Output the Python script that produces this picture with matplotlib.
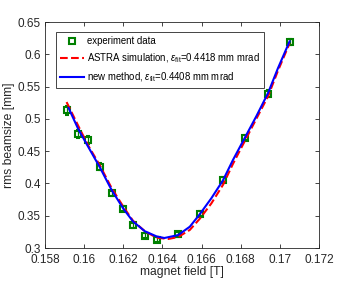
import matplotlib.pyplot as plt
from matplotlib.lines import Line2D

plt.rcParams['font.family'] = ['Liberation Sans', 'DejaVu Sans']
plt.rcParams['mathtext.fontset'] = 'custom'
plt.rcParams['mathtext.rm'] = 'Liberation Sans'
plt.rcParams['mathtext.it'] = 'Liberation Sans:italic'

# measured points
field = [0.1591, 0.1597, 0.1602, 0.1608, 0.1614, 0.1620, 0.1625, 0.1631,
         0.1637, 0.1648, 0.1659, 0.1671, 0.1682, 0.1694, 0.1705]
size = [0.513, 0.477, 0.467, 0.426, 0.385, 0.361, 0.335, 0.319,
        0.313, 0.321, 0.353, 0.406, 0.471, 0.539, 0.619]
err = [0.007, 0.006, 0.006, 0.005, 0.004, 0.004, 0.004, 0.004,
       0.004, 0.004, 0.004, 0.004, 0.004, 0.005, 0.005]

# ASTRA simulation curve
astra_x = [0.1591, 0.1597, 0.1602, 0.1608, 0.1614, 0.1620, 0.1625, 0.1631,
           0.1637, 0.1643, 0.1648, 0.1654, 0.1659, 0.1665, 0.1671, 0.1676,
           0.1682, 0.1688, 0.1694, 0.1699, 0.1705]
astra_y = [0.526, 0.489, 0.459, 0.428, 0.393, 0.364, 0.342, 0.326,
           0.316, 0.314, 0.317, 0.328, 0.345, 0.369, 0.398, 0.430,
           0.465, 0.500, 0.535, 0.574, 0.617]

# new method fit curve
new_x = [0.1592, 0.1597, 0.1602, 0.1608, 0.1614, 0.1620, 0.1625, 0.1631,
         0.1637, 0.1641, 0.1648, 0.1654, 0.1659, 0.1665, 0.1671, 0.1676,
         0.1682, 0.1688, 0.1694, 0.1699, 0.1705]
new_y = [0.517, 0.484, 0.457, 0.425, 0.390, 0.361, 0.341, 0.326,
         0.318, 0.3155, 0.320, 0.333, 0.352, 0.377, 0.405, 0.436,
         0.470, 0.504, 0.540, 0.578, 0.620]

fig = plt.figure(figsize=(3.52, 2.81), dpi=100)
ax = fig.add_axes([0.128, 0.1174, 0.778, 0.8043])

green = (0, 0.5, 0)
ax.errorbar(field, size, yerr=err, fmt='s', color=green, mfc='none', mec=green,
            ms=5, mew=1.5, elinewidth=0.9, capsize=1.5, zorder=3)
l1, = ax.plot(astra_x, astra_y, '--', color='red', lw=1.5, zorder=4)
l2, = ax.plot(new_x, new_y, '-', color='blue', lw=1.5, zorder=5)
l0 = Line2D([], [], ls='none', marker='s', ms=5, mew=1.5, mfc='none', mec=green)

ax.set_xlim(0.158, 0.172)
ax.set_ylim(0.3, 0.65)
ax.set_xticks([0.158, 0.16, 0.162, 0.164, 0.166, 0.168, 0.17, 0.172])
ax.set_xticklabels(['0.158', '0.16', '0.162', '0.164', '0.166', '0.168', '0.17', '0.172'])
ax.set_yticks([0.3, 0.35, 0.4, 0.45, 0.5, 0.55, 0.6, 0.65])
ax.set_yticklabels(['0.3', '0.35', '0.4', '0.45', '0.5', '0.55', '0.6', '0.65'])
ax.tick_params(direction='in', top=True, right=True, labelsize=8.5, colors='#262626',
               length=3, width=0.6)
ax.tick_params(axis='x', pad=4.5)
ax.tick_params(axis='y', pad=3)
for s in ax.spines.values():
    s.set_color('#262626')
    s.set_linewidth(0.6)

ax.set_xlabel('magnet field [T]', fontsize=8.7, color='#262626', labelpad=-0.5)
ax.set_ylabel('rms beamsize [mm]', fontsize=8.7, color='#262626', labelpad=2)

leg = ax.legend([l0, l1, l2],
                ['experiment data',
                 r'ASTRA simulation, $\epsilon_{\rm fit}$=0.4418 mm mrad',
                 r'new method, $\epsilon_{\rm fit}$=0.4408 mm mrad'],
                loc='upper left', bbox_to_anchor=(0.04, 0.955), borderaxespad=0,
                fontsize=6.9, fancybox=False, framealpha=1,
                edgecolor='#262626', handlelength=2.5, handletextpad=0.35,
                labelspacing=0.55, borderpad=0.4)
leg.get_frame().set_linewidth(0.6)

fig.savefig('out.png', dpi=100)
